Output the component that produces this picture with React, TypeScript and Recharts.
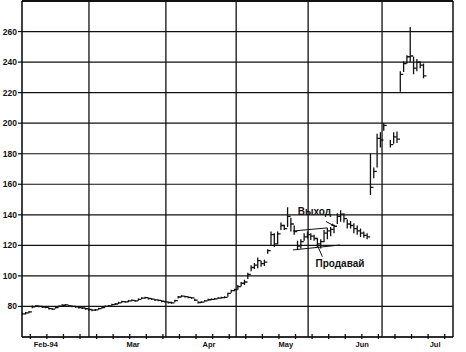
import React from 'react';
import {
  ComposedChart,
  Bar,
  XAxis,
  YAxis,
  CartesianGrid,
  ReferenceLine,
  ReferenceDot,
} from 'recharts';

// trading day index from Feb 1 1994 (day 110 = Jul 4 holiday, no bar)
const days = [
  0, 1, 2, 3, 4, 5, 6, 7, 8, 9, 10, 11, 12, 13, 14, 15, 16, 17, 18, 19, 20,
  21, 22, 23, 24, 25, 26, 27, 28, 29, 30, 31, 32, 33, 34, 35, 36, 37, 38, 39, 40, 41, 42, 43,
  44, 45, 46, 47, 48, 49, 50, 51, 52, 53, 54, 55, 56, 57, 58, 59, 60, 61, 62, 63, 64,
  65, 66, 67, 68, 69, 70, 71, 72, 73, 74, 75, 76, 77, 78, 79, 80, 81, 82, 83, 84, 85, 86,
  87, 88, 89, 90, 91, 92, 93, 94, 95, 96, 97, 98, 99, 100, 101, 102, 103, 104, 105, 106, 107, 108, 109,
  111, 112, 113, 114, 115, 116, 117, 118, 119, 120, 121,
];

const lows = [
  74.4, 74.8, 75.6, 78.8, 79.6, 79.4, 79.0, 78.8, 78.0, 77.8, 78.6, 79.4, 80.0, 80.4, 79.8, 79.4, 79.2, 78.6, 78.4, 77.8, 77.2,
  76.8, 77.0, 77.8, 78.6, 79.4, 79.8, 80.4, 81.0, 81.6, 82.4, 82.4, 82.8, 83.4, 83.0, 83.8, 84.8, 85.0, 84.6, 84.2, 83.6, 83.4, 82.8, 82.4,
  82.0, 81.8, 82.8, 85.2, 86.0, 85.8, 85.4, 85.0, 83.6, 82.0, 82.2, 83.0, 83.8, 84.0, 84.4, 84.8, 85.2, 85.4, 86.4, 89.0, 90.0,
  91.0, 93.0, 94.0, 98.0, 103.0, 104.5, 105.0, 106.0, 106.5, 114.5, 120.0, 119.0, 120.5, 130.0, 130.0, 132.0, 129.0, 127.0, 117.0, 118.0, 123.0, 124.5,
  123.5, 123.0, 119.0, 118.0, 122.0, 124.0, 126.0, 128.0, 134.0, 135.5, 135.0, 131.0, 131.0, 128.0, 127.0, 125.5, 125.0, 124.0, 153.0, 164.0, 171.0, 184.0, 195.0,
  184.0, 186.5, 187.0, 220.5, 233.5, 239.0, 240.0, 232.0, 234.0, 236.0, 229.5,
];

const highs = [
  76.0, 76.4, 77.0, 80.6, 80.8, 80.6, 80.4, 80.0, 79.4, 79.0, 79.8, 80.6, 81.4, 81.6, 81.0, 80.6, 80.4, 79.8, 79.6, 79.2, 78.6,
  78.2, 78.4, 79.2, 80.0, 80.6, 81.0, 81.8, 82.2, 83.0, 83.8, 83.6, 84.2, 84.6, 84.2, 85.2, 86.0, 86.4, 85.8, 85.4, 84.8, 84.6, 84.0, 83.6,
  83.2, 83.0, 84.4, 86.8, 87.4, 87.0, 86.6, 86.2, 85.0, 83.4, 83.4, 84.2, 85.0, 85.2, 85.6, 86.0, 86.4, 86.6, 89.0, 91.0, 91.6,
  94.0, 96.0, 97.5, 102.0, 107.0, 108.5, 112.0, 110.0, 110.5, 117.5, 129.0, 128.0, 129.0, 135.0, 133.5, 145.0, 138.0, 133.0, 123.0, 124.0, 128.0, 129.0,
  128.0, 127.0, 125.0, 124.0, 130.0, 131.5, 132.0, 133.5, 141.0, 143.0, 141.0, 137.0, 136.0, 134.5, 133.0, 131.0, 129.0, 128.0, 180.0, 171.0, 193.0, 194.0, 200.0,
  189.0, 194.0, 194.5, 234.0, 240.5, 244.5, 263.0, 243.5, 242.0, 240.5, 239.0,
];

const closes = [
  75.2, 75.8, 76.5, 79.8, 80.3, 80.0, 79.6, 79.4, 78.6, 78.3, 79.2, 80.2, 80.8, 81.0, 80.4, 80.0, 79.8, 79.2, 79.0, 78.5, 78.0,
  77.6, 77.8, 78.6, 79.3, 80.0, 80.4, 81.2, 81.6, 82.4, 83.2, 83.0, 83.6, 84.0, 83.6, 84.6, 85.4, 85.8, 85.2, 84.8, 84.3, 84.0, 83.4, 83.0,
  82.6, 82.4, 83.8, 86.2, 86.8, 86.4, 86.0, 85.6, 84.2, 82.6, 82.8, 83.6, 84.4, 84.6, 85.0, 85.4, 85.8, 86.0, 88.6, 90.4, 91.0,
  93.0, 95.2, 96.0, 101.0, 105.5, 107.0, 110.0, 108.0, 109.0, 116.5, 127.0, 121.0, 127.5, 133.0, 131.0, 139.0, 134.0, 129.0, 119.5, 122.5, 125.5, 127.0,
  126.0, 124.5, 121.0, 122.5, 128.0, 129.5, 130.5, 132.5, 139.0, 140.5, 137.5, 134.0, 133.0, 131.0, 129.5, 128.0, 126.5, 125.5, 158.0, 168.5, 190.0, 189.0, 198.5,
  186.0, 191.0, 189.5, 232.0, 239.0, 243.5, 244.0, 236.0, 240.0, 238.0, 231.0,
];

const priceTicks = [80, 100, 120, 140, 160, 180, 200, 220, 240, 260];
const monthLabels = ['Feb-94', 'Mar', 'Apr', 'May', 'Jun', 'Jul'];
const monthLabelAt = [7.2, 33.5, 56.4, 79.6, 102.6, 124.6];
const monthStarts = [20.2, 43.4, 64.6, 86.3, 108.6];
const weekTicks = [
  2.5, 7.5, 12.5, 17.5, 22.5, 27.5, 32.5, 37.5, 42.5, 47.5, 52.5, 57.5, 62.5,
  67.5, 72.5, 77.5, 82.5, 87.5, 92.5, 97.5, 102.5, 107.5, 112.5, 117.5, 122.5, 127.5,
];

// annotation: flag channel + arrows, in [day, price]
const channelTop = [[81.7, 129.4], [92.0, 131.4]];
const channelBottom = [[81.7, 117.0], [95.9, 120.2]];
const exitArrow = [[91.7, 135.6], [94.3, 132.6]];
const sellPointer = [[90.6, 112.6], [89.0, 120.6]];

const rows = days.map((d, i) => ({
  d,
  lo: lows[i],
  hi: highs[i],
  c: closes[i],
  range: [lows[i], highs[i]],
}));

const INK = '#111';
const FONT = '"Liberation Sans", Arial, sans-serif';

const OhlcBar = (props: any) => {
  const { x, y, width, height, payload } = props;
  if (x == null || y == null) return null;
  const cx = x + width / 2;
  const top = Math.min(y, y + height);
  const h = Math.max(Math.abs(height), 1);
  const span = payload.hi - payload.lo || 1;
  const yc = top + ((payload.hi - payload.c) / span) * h;
  return (
    <g>
      <line x1={cx} x2={cx} y1={top} y2={top + h} stroke={INK} strokeWidth={1.3} />
      <line x1={cx} x2={cx + 3} y1={yc} y2={yc} stroke={INK} strokeWidth={1.3} />
    </g>
  );
};

const MonthTick = (props: any) => {
  const { x, y, payload } = props;
  const i = monthLabelAt.indexOf(payload.value);
  if (i >= 0) {
    return (
      <text x={x} y={y + 10} textAnchor="middle" fontSize={7.5} fontWeight="bold" fill={INK} fontFamily={FONT}>
        {monthLabels[i]}
      </text>
    );
  }
  return <line x1={x} x2={x} y1={y - 3} y2={y + 2} stroke={INK} strokeWidth={1.3} />;
};

const ArrowLine = (props: any) => {
  const { x1, y1, x2, y2 } = props;
  if (x1 == null) return null;
  const a = Math.atan2(y2 - y1, x2 - x1);
  const s = 3.5;
  const p1 = `${x2},${y2}`;
  const p2 = `${x2 - s * Math.cos(a - 0.45)},${y2 - s * Math.sin(a - 0.45)}`;
  const p3 = `${x2 - s * Math.cos(a + 0.45)},${y2 - s * Math.sin(a + 0.45)}`;
  return (
    <g>
      <line x1={x1} y1={y1} x2={x2} y2={y2} stroke={INK} strokeWidth={1} />
      <polygon points={`${p1} ${p2} ${p3}`} fill={INK} />
    </g>
  );
};

const seg = (pts: number[][]) => pts.map(([x, y]) => ({ x, y }));

const Note = (text: string, size: number) => (p: any) => (
  <text x={p.cx} y={p.cy} textAnchor="middle" dominantBaseline="central" fontSize={size} fontWeight="bold" fill={INK} fontFamily={FONT}>
    {text}
  </text>
);

export default function App() {
  return (
    <div style={{ width: 466, height: 352, background: '#fff' }}>
      <style>{'body{margin:0}'}</style>
      <ComposedChart width={466} height={352} data={rows} margin={{ top: 1, right: 13, bottom: 0, left: 0 }}>
        <CartesianGrid vertical={false} stroke={INK} strokeWidth={1.2} />
        <XAxis
          type="number"
          dataKey="d"
          domain={[0, 130]}
          ticks={[...weekTicks, ...monthLabelAt]}
          interval={0}
          tick={<MonthTick />}
          tickLine={false}
          tickSize={0}
          tickMargin={0}
          height={15}
          axisLine={{ stroke: INK, strokeWidth: 1.6 }}
        />
        <YAxis
          domain={[60, 280]}
          ticks={priceTicks}
          allowDataOverflow
          width={22}
          tickSize={4}
          tickMargin={1}
          tickLine={{ stroke: INK, strokeWidth: 1.2 }}
          axisLine={{ stroke: INK, strokeWidth: 1.6 }}
          tick={{ fontSize: 8.5, fontWeight: 'bold', fill: INK, fontFamily: FONT }}
        />
        {monthStarts.map((m) => (
          <ReferenceLine key={m} x={m} stroke={INK} strokeWidth={1.3} />
        ))}
        <ReferenceLine x={130} stroke={INK} strokeWidth={1.5} />
        <ReferenceLine y={280} stroke={INK} strokeWidth={2} />
        <Bar dataKey="range" barSize={2} shape={<OhlcBar />} isAnimationActive={false} />
        <ReferenceLine segment={seg(channelTop)} stroke={INK} strokeWidth={1} />
        <ReferenceLine segment={seg(channelBottom)} stroke={INK} strokeWidth={1} />
        <ReferenceLine segment={seg(exitArrow)} shape={ArrowLine} />
        <ReferenceLine segment={seg(sellPointer)} stroke={INK} strokeWidth={1} />
        <ReferenceDot x={88.2} y={141.9} r={0} shape={Note('Выход', 10)} />
        <ReferenceDot x={95.9} y={107.8} r={0} shape={Note('Продавай', 10)} />
      </ComposedChart>
    </div>
  );
}
